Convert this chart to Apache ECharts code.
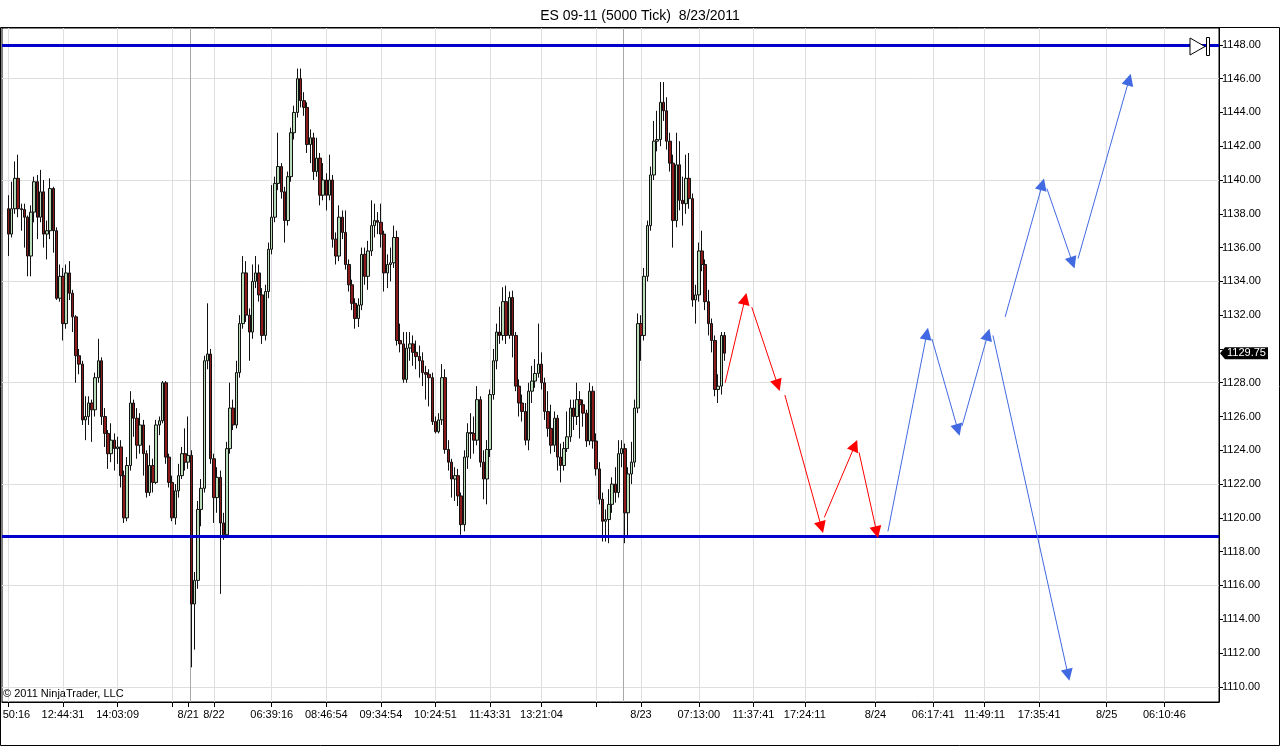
<!DOCTYPE html>
<html><head><meta charset="utf-8">
<script src="https://cdn.jsdelivr.net/npm/echarts@6/dist/echarts.min.js"></script>
<style>html,body{margin:0;padding:0;background:#fff}#c{width:1280px;height:747px}</style>
</head><body><div id="c"></div>
<script>
const chartTitle = 'ES 09-11 (5000 Tick)  8/23/2011';
const copyrightText = '\u00A9 2011 NinjaTrader, LLC';
const priceMin = 1109.1, priceMax = 1149.0;
const slotCount = 380;
const firstBarIndex = 2;

// price axis ticks, labels and gridlines
const priceTicks = [1110,1112,1114,1116,1118,1120,1122,1124,1126,1128,1130,1132,1134,1136,1138,1140,1142,1144,1146,1148];
const priceLabels = [1110,1112,1114,1116,1118,1120,1122,1124,1126,1128,1132,1134,1136,1138,1140,1142,1144,1146,1148];
const priceGrid = [1110,1116,1122,1128,1134,1140,1146];

// bar index -> time label
const xTickLabels = [[2,'50:16'],[19,'12:44:31'],[36,'14:03:09'],[53,''],[58,'8/21'],[66,'8/22'],
  [84,'06:39:16'],[101,'08:46:54'],[118,'09:34:54'],[135,'10:24:51'],[152,'11:43:31'],[168,'13:21:04'],
  [185,''],[199,'8/23'],[217,'07:13:00'],[234,'11:37:41'],[250,'17:24:11'],[272,'8/24'],[290,'06:17:41'],
  [306,'11:49:11'],[323,'17:35:41'],[344,'8/25'],[362,'06:10:46']];
const sessionBreaks = [58.5, 193.5];
const levelLines = [1148, 1118.9];
const lastPrice = 1129.75;

// candles [open, close, low, high]
const barsA = [
 [1138.3,1136.8,1135.5,1139.1],[1136.8,1138.3,1136.6,1139.9],[1138.3,1140.1,1138.0,1141.1],[1140.1,1138.3,1137.8,1141.5],
 [1138.3,1138.25,1137.0,1138.6],[1138.25,1137.8,1136.0,1138.6],[1137.8,1135.5,1134.3,1137.9],[1135.5,1138.1,1134.3,1138.5],
 [1138.1,1139.9,1137.5,1140.2],[1139.9,1137.8,1136.5,1140.3],[1137.8,1139.3,1137.5,1140.6],[1139.3,1136.8,1136.0,1140.0],
 [1136.8,1137.0,1135.3,1137.6],[1137.0,1139.5,1136.5,1140.1],[1139.5,1137.0,1135.7,1139.6],[1137.0,1133.0,1132.9,1137.2],
 [1133.0,1134.3,1132.8,1135.0],[1134.3,1131.5,1130.5,1134.8],[1131.5,1134.5,1131.2,1135.0],[1134.5,1133.3,1132.9,1135.2],
 [1133.3,1131.9,1131.0,1133.5],[1131.9,1129.6,1128.0,1132.0],[1129.6,1129.1,1128.5,1130.0],[1129.1,1125.8,1125.5,1129.3],
 [1125.8,1126.0,1124.6,1127.2],[1126.0,1126.8,1125.5,1127.2],[1126.8,1126.4,1124.5,1127.0],[1126.4,1128.3,1126.0,1128.6],
 [1128.3,1129.3,1128.0,1130.6],[1129.3,1126.0,1125.5,1129.5],[1126.0,1125.0,1124.2,1126.5],[1125.0,1123.8,1122.9,1125.2],
 [1123.8,1124.6,1123.3,1125.6],[1124.6,1124.1,1122.8,1125.0],[1124.1,1124.2,1123.2,1124.8],[1124.2,1122.5,1121.8,1124.6],
 [1122.5,1120.0,1119.7,1122.8],[1120.0,1123.1,1119.8,1123.6],[1123.1,1126.8,1122.8,1127.5],[1126.8,1125.9,1124.8,1127.0],
 [1125.9,1124.3,1123.5,1126.5],[1124.3,1125.5,1123.8,1126.2],[1125.5,1123.8,1122.5,1125.8],[1123.8,1121.5,1121.2,1124.0],
 [1121.5,1123.1,1121.3,1124.3],[1123.1,1122.1,1121.5,1123.5],[1122.1,1125.5,1122.0,1125.8],[1125.5,1125.75,1124.9,1126.0],
 [1125.75,1128.0,1125.6,1128.1],[1128.0,1123.6,1123.2,1128.1],[1123.6,1122.1,1121.8,1123.8],[1122.1,1120.0,1119.8,1122.5],
 [1120.0,1121.6,1119.6,1122.0],[1121.6,1122.5,1121.2,1123.2],[1122.5,1123.8,1122.3,1124.2]
];
const barsB = [
 [1123.8,1123.3,1122.8,1125.3],[1123.3,1123.7,1122.9,1126.0],[1123.7,1114.9,1111.15,1124.0],[1114.9,1116.3,1112.2,1116.8],
 [1116.3,1120.5,1115.8,1121.0],[1120.5,1121.75,1119.5,1122.3],[1121.75,1129.3,1121.5,1129.6],[1129.3,1129.7,1128.8,1132.7],
 [1129.7,1123.5,1123.2,1130.0],[1123.5,1121.2,1119.7,1123.8],[1121.2,1122.4,1120.3,1123.0],[1122.4,1119.7,1115.5,1122.8],
 [1119.7,1119.0,1118.7,1120.3],[1119.0,1124.1,1118.8,1124.5],[1124.1,1126.5,1123.8,1128.0],[1126.5,1125.5,1125.2,1127.0],
 [1125.5,1128.6,1125.3,1129.3],[1128.6,1131.5,1128.3,1132.0],[1131.5,1134.5,1131.2,1135.5],[1134.5,1132.0,1131.6,1135.2],
 [1132.0,1131.0,1129.3,1132.4],[1131.0,1134.0,1130.6,1135.0],[1134.0,1134.5,1133.6,1135.5],[1134.5,1133.2,1132.8,1135.0],
 [1133.2,1130.8,1130.3,1133.6],[1130.8,1133.4,1130.5,1133.8],[1133.4,1135.9,1133.0,1136.3],[1135.9,1137.8,1135.6,1139.7],
 [1137.8,1139.8,1137.5,1140.2],[1139.8,1140.8,1139.4,1142.8],[1140.8,1139.3,1138.9,1141.0],[1139.3,1137.6,1136.3,1139.6],
 [1137.6,1140.2,1137.3,1140.5],[1140.2,1142.8,1139.9,1143.1],[1142.8,1144.0,1142.4,1144.4],[1144.0,1146.0,1143.7,1146.6],
 [1146.0,1144.7,1144.3,1146.6],[1144.7,1144.3,1143.8,1145.2],[1144.3,1142.1,1141.6,1144.6],[1142.1,1142.5,1141.0,1143.0],
 [1142.5,1140.5,1140.0,1142.8],[1140.5,1141.3,1140.2,1142.5],[1141.3,1139.1,1138.5,1141.6],[1139.1,1140.0,1138.8,1141.0],
 [1140.0,1139.1,1138.2,1140.4],[1139.1,1140.0,1138.8,1141.5],[1140.0,1136.5,1136.0,1140.3],[1136.5,1135.5,1135.0,1136.9],
 [1135.5,1137.8,1135.2,1138.5],[1137.8,1136.9,1136.5,1138.2],[1136.9,1135.0,1134.7,1138.2],[1135.0,1133.8,1133.4,1135.3],
 [1133.8,1132.7,1132.3,1134.1],[1132.7,1131.8,1131.2,1133.0]
];
const barsC = [
 [1131.8,1132.6,1131.3,1133.0],[1132.6,1135.6,1132.3,1136.0],[1135.6,1134.3,1133.8,1136.0],[1134.3,1135.8,1133.5,1136.4],
 [1135.8,1137.3,1135.5,1138.8],[1137.3,1137.6,1136.6,1138.6],[1137.6,1137.5,1136.8,1138.1],[1137.5,1136.8,1136.0,1138.6],
 [1136.8,1134.5,1133.4,1137.0],[1134.5,1135.0,1133.6,1135.6],[1135.0,1135.1,1134.0,1136.0],[1135.1,1136.6,1134.8,1137.3],
 [1136.6,1130.5,1130.2,1137.0],[1130.5,1130.3,1129.8,1131.5],[1130.3,1128.2,1128.0,1131.0],[1128.2,1130.05,1128.0,1131.0],
 [1130.05,1130.3,1129.3,1131.0],[1130.3,1129.8,1129.0,1130.8],[1129.8,1129.55,1128.8,1130.5],[1129.55,1129.3,1128.3,1130.2],
 [1129.3,1128.6,1127.8,1129.8],[1128.6,1128.5,1127.0,1129.0],[1128.5,1128.3,1126.6,1128.8],[1128.3,1125.7,1125.5,1128.6],
 [1125.7,1125.1,1125.0,1126.0],[1125.1,1125.8,1125.0,1126.2],[1125.8,1128.3,1125.5,1129.1],[1128.3,1124.05,1123.8,1128.8],
 [1124.05,1123.3,1122.8,1124.6],[1123.3,1122.3,1121.2,1123.5],[1122.3,1122.5,1121.0,1123.0],[1122.5,1121.3,1120.7,1122.9],
 [1121.3,1119.6,1119.0,1121.5],[1119.6,1123.6,1119.2,1124.0],[1123.6,1125.05,1122.9,1125.6],[1125.05,1125.0,1123.5,1126.2],
 [1125.0,1124.6,1123.8,1126.0],[1124.6,1127.0,1124.3,1127.8],[1127.0,1123.3,1123.0,1127.2],[1123.3,1122.3,1121.1,1124.0],
 [1122.3,1124.05,1120.8,1124.6],[1124.05,1127.3,1123.6,1127.6],[1127.3,1129.3,1127.0,1130.0],[1129.3,1131.0,1128.8,1131.5],
 [1131.0,1130.8,1130.3,1132.5],[1130.8,1132.8,1130.5,1133.65],[1132.8,1130.8,1130.3,1133.75],[1130.8,1133.05,1130.6,1133.4],
 [1133.05,1130.8,1129.5,1133.45],[1130.8,1127.8,1127.5,1131.0],[1127.8,1126.8,1126.0,1128.2],[1126.8,1126.3,1125.7,1127.3],
 [1126.3,1124.6,1124.3,1126.8],[1124.6,1127.5,1124.0,1128.0],[1127.5,1128.1,1126.8,1129.0],[1128.1,1128.55,1127.7,1129.4],
 [1128.55,1129.1,1128.3,1131.5]
];
const barsD = [
 [1129.1,1128.0,1127.6,1129.8],[1128.0,1126.3,1125.8,1128.3],[1126.3,1125.3,1124.8,1127.5],[1125.3,1124.3,1123.8,1126.7],
 [1124.3,1125.9,1123.9,1126.3],[1125.9,1123.6,1122.8,1126.1],[1123.6,1123.1,1122.1,1124.4],[1123.1,1124.1,1122.8,1124.5],
 [1124.1,1124.8,1123.9,1126.3],[1124.8,1126.5,1124.5,1127.0],[1126.5,1126.0,1125.2,1127.0],[1126.0,1127.0,1125.5,1128.0],
 [1127.0,1126.7,1124.7,1127.5],[1126.7,1126.2,1125.4,1127.0],[1126.2,1124.55,1124.2,1126.4],[1124.55,1127.5,1124.3,1128.0],
 [1127.5,1124.55,1124.1,1127.8],[1124.55,1122.9,1122.5,1125.0],[1122.9,1121.1,1120.8,1123.3],[1121.1,1119.8,1118.6,1121.5],
 [1119.8,1119.9,1118.6,1120.5],[1119.9,1120.8,1118.5,1121.7],[1120.8,1122.0,1120.3,1122.4],[1122.0,1121.5,1120.9,1123.0],
 [1121.5,1123.8,1121.2,1124.6],[1123.8,1124.1,1123.0,1124.6],[1124.1,1120.3,1118.5,1124.4],[1120.3,1122.6,1118.8,1123.0],
 [1122.6,1123.3,1122.0,1124.5],[1123.3,1126.5,1123.0,1127.0],[1126.5,1131.5,1126.2,1132.1],[1131.5,1130.8,1129.3,1132.0],
 [1130.8,1134.3,1130.5,1134.8],[1134.3,1137.3,1134.0,1137.6],[1137.3,1140.3,1137.0,1140.8],[1140.3,1142.3,1140.0,1143.5],
 [1142.3,1142.4,1141.7,1144.1],[1142.4,1144.6,1142.0,1145.8],[1144.6,1144.1,1143.5,1145.8],[1144.1,1142.3,1141.8,1144.9],
 [1142.3,1141.0,1140.5,1142.8],[1141.0,1137.6,1136.0,1141.5],[1137.6,1140.9,1137.2,1142.8],[1140.9,1138.8,1138.2,1142.3],
 [1138.8,1138.6,1137.3,1140.2],[1138.6,1140.1,1138.0,1141.5],[1140.1,1138.9,1138.3,1141.6],[1138.9,1132.9,1132.5,1139.2],
 [1132.9,1133.2,1131.5,1133.8],[1133.2,1135.8,1132.8,1136.3],[1135.8,1135.0,1134.6,1137.0],[1135.0,1132.8,1132.3,1135.3],
 [1132.8,1131.5,1130.8,1133.5],[1131.5,1130.5,1129.8,1131.8],[1130.5,1127.6,1127.2,1130.8],[1127.6,1127.8,1126.8,1128.5],
 [1127.8,1130.8,1127.3,1131.0],[1130.8,1129.75,1129.3,1131.0]
];

// forecast arrows: [[barIndex, price] start, [barIndex, price] head]
const redArrows = [
 [[225.2,1128.0],[231.4,1132.97]],
 [[233.5,1132.47],[241.6,1127.85]],
 [[243.8,1127.27],[255.2,1119.44]],
 [[256.1,1120.03],[265.6,1124.29]],
 [[266.9,1123.88],[272.4,1119.15]]
];
const blueArrows = [
 [[275.9,1119.2],[288.0,1130.9]],
 [[289.6,1130.6],[297.7,1125.2]],
 [[299.0,1125.45],[307.0,1130.85]],
 [[308.6,1130.8],[332.0,1110.7]],
 [[312.4,1131.9],[324.0,1139.75]],
 [[325.4,1139.5],[333.4,1135.1]],
 [[335.1,1135.35],[351.0,1145.95]]
];

const FONT = '"Liberation Sans", Arial, sans-serif';
const labelMap = {};
xTickLabels.forEach(t => { labelMap[t[0]] = t[1]; });
const categories = Array.from({length: slotCount}, (_, k) => labelMap[k] !== undefined ? labelMap[k] : '');
const tickSet = new Set(xTickLabels.map(t => t[0]));
const gridSet = new Set(xTickLabels.map(t => t[0]).filter(k => k !== 58));
const firstLabelIdx = xTickLabels[0][0];

const pad = [];
for (let k = 0; k < firstBarIndex; k++) pad.push(['-','-','-','-']);
const candleData = pad.concat(barsA, barsB, barsC, barsD);

const chart = echarts.init(document.getElementById('c'), null, {renderer: 'canvas'});
const arrowSeries = (arr, color) => ({
  type: 'lines', coordinateSystem: 'cartesian2d', xAxisIndex: 1, yAxisIndex: 0,
  symbol: ['none', 'triangle'], symbolSize: 12, silent: true, z: 4,
  lineStyle: {color: color, width: 1, opacity: 1, curveness: 0},
  itemStyle: {color: color},
  data: arr.map(c => ({coords: c}))
});

const baseGraphic = [
  {type: 'rect', silent: true, z: 100, shape: {x: 0.5, y: 27.5, width: 1279, height: 718},
   style: {fill: 'none', stroke: '#000', lineWidth: 1}},
  {type: 'text', silent: true, z: 100, left: 3, top: 688,
   style: {text: copyrightText, fontSize: 11, fontFamily: FONT, fill: '#000'}},
  {type: 'polygon', silent: true, z: 100, shape: {points: [[1190, 38], [1205, 46.5], [1190, 55]]},
   style: {fill: '#fff', stroke: '#000', lineWidth: 1}},
  {type: 'rect', silent: true, z: 100, shape: {x: 1206.5, y: 37.5, width: 3, height: 18},
   style: {fill: '#fff', stroke: '#000', lineWidth: 1}}
];

chart.setOption({
  animation: false,
  backgroundColor: '#ffffff',
  title: {text: chartTitle, left: 'center', top: 4,
    textStyle: {fontFamily: FONT, fontSize: 14, fontWeight: 'normal', color: '#000'}},
  grid: {left: 2, right: 61, top: 28, bottom: 45, show: true, borderColor: '#000', borderWidth: 1,
    backgroundColor: 'rgba(0,0,0,0)', containLabel: false, outerBoundsMode: 'none'},
  xAxis: [
    {type: 'category', data: categories, boundaryGap: false,
     axisLine: {onZero: false, lineStyle: {color: '#000', width: 1}},
     axisTick: {show: true, interval: (i) => tickSet.has(i), length: 5, lineStyle: {color: '#000'}},
     axisLabel: {interval: (i) => tickSet.has(i), color: '#000', fontSize: 11, margin: 7, fontFamily: FONT,
       formatter: (v, i) => (i === firstLabelIdx ? '{first|' + v + '}' : v),
       rich: {first: {padding: [0, 0, 0, 16], fontSize: 11, fontFamily: FONT, color: '#000'}}},
     splitLine: {show: true, interval: (i) => gridSet.has(i), lineStyle: {color: '#dedede', width: 1}}},
    {type: 'value', min: 0, max: slotCount - 1, show: false, axisLine: {onZero: false}}
  ],
  yAxis: [
    {type: 'value', position: 'right', min: priceMin, max: priceMax,
     axisLine: {show: true, onZero: false, lineStyle: {color: '#000'}},
     axisTick: {show: true, length: 4, customValues: priceTicks, lineStyle: {color: '#000'}},
     axisLabel: {show: true, customValues: priceLabels, color: '#000', fontSize: 11, margin: 3, fontFamily: FONT,
       formatter: v => Number(v).toFixed(2)},
     splitLine: {show: false}}
  ],
  series: [
    {type: 'lines', coordinateSystem: 'cartesian2d', xAxisIndex: 1, yAxisIndex: 0, silent: true, z: 1,
     symbol: ['none','none'], lineStyle: {color: '#dedede', width: 1, opacity: 1},
     data: priceGrid.map(v => ({coords: [[0, v], [slotCount - 1, v]]}))},
    {type: 'lines', coordinateSystem: 'cartesian2d', xAxisIndex: 1, yAxisIndex: 0, silent: true, z: 1,
     symbol: ['none','none'], lineStyle: {color: '#a8a8a8', width: 1, opacity: 1},
     data: sessionBreaks.map(j => ({coords: [[j, priceMin], [j, priceMax]]}))},
    {type: 'candlestick', xAxisIndex: 0, yAxisIndex: 0, barWidth: 3, z: 2,
     itemStyle: {color: '#b8dcb8', color0: '#8b1a1a', borderColor: '#111', borderColor0: '#111', borderWidth: 1},
     emphasis: {disabled: true},
     data: candleData,
     markLine: {silent: true, symbol: ['none','none'], animation: false, z: 3, label: {show: false},
       data: levelLines.map(v => ({yAxis: v, lineStyle: {color: '#0000cd', width: 3, type: 'solid'}, label: {show: false}}))}},
    arrowSeries(redArrows, '#ff0000'),
    arrowSeries(blueArrows, '#4169e1')
  ],
  graphic: baseGraphic
});

// last price tag on the right axis, positioned through the price scale
const tagY = chart.convertToPixel({yAxisIndex: 0}, lastPrice);
const axisX = chart.convertToPixel({xAxisIndex: 1}, slotCount - 1);
chart.setOption({
  graphic: baseGraphic.concat([
    {type: 'polygon', silent: true, z: 110,
     shape: {points: [[axisX + 1, tagY], [axisX + 6, tagY - 6], [axisX + 49, tagY - 6], [axisX + 49, tagY + 6], [axisX + 6, tagY + 6]]},
     style: {fill: '#000'}},
    {type: 'text', silent: true, z: 111, x: axisX + 8, y: tagY,
     style: {text: lastPrice.toFixed(2), fontSize: 11, fontFamily: FONT, fill: '#fff', verticalAlign: 'middle', align: 'left'}}
  ])
});
</script>
</body></html>
